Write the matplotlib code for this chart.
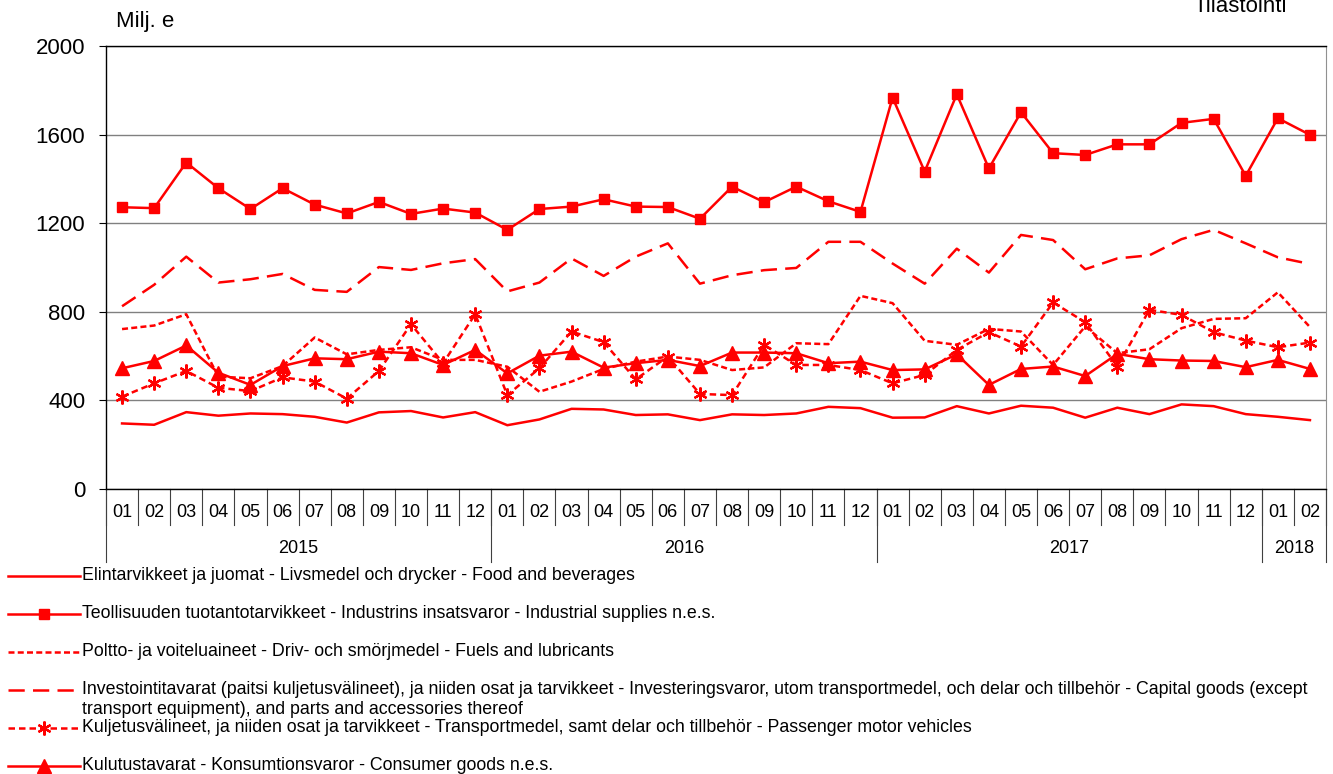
import numpy as np
import matplotlib.pyplot as plt
from matplotlib.lines import Line2D
import matplotlib.transforms as mtransforms

plt.rcParams['font.family'] = ['Liberation Sans', 'DejaVu Sans']

months = ['01', '02', '03', '04', '05', '06', '07', '08', '09', '10', '11', '12'] * 3 + ['01', '02']
years = ['2015', '2016', '2017', '2018']
year_len = [12, 12, 12, 2]

food = [296, 290, 347, 331, 341, 338, 326, 300, 346, 352, 323, 347,
        288, 314, 362, 359, 334, 337, 311, 337, 334, 341, 371, 365,
        322, 323, 374, 341, 376, 367, 322, 367, 338, 382, 374, 338,
        326, 311]
industrial = [1272, 1268, 1474, 1358, 1264, 1358, 1284, 1244, 1296, 1242, 1266, 1248,
              1170, 1264, 1275, 1308, 1275, 1273, 1220, 1365, 1295, 1365, 1299, 1251,
              1767, 1433, 1782, 1447, 1701, 1516, 1508, 1556, 1556, 1653, 1671, 1414,
              1674, 1599]
fuels = [722, 738, 789, 507, 500, 555, 684, 608, 628, 640, 583, 583,
         552, 439, 485, 542, 575, 598, 583, 537, 549, 658, 654, 872,
         839, 669, 651, 723, 711, 560, 734, 613, 631, 726, 768, 771,
         888, 731]
capital = [825, 922, 1049, 932, 947, 971, 899, 890, 1002, 989, 1019, 1038,
           892, 932, 1041, 962, 1049, 1109, 927, 965, 988, 998, 1116, 1116,
           1018, 927, 1085, 977, 1147, 1124, 992, 1041, 1055, 1128, 1170, 1109,
           1046, 1016]
passenger = [417, 477, 533, 457, 442, 504, 485, 408, 533, 744, 568, 789,
             424, 545, 711, 663, 495, 598, 429, 424, 651, 560, 560, 537,
             477, 515, 628, 708, 643, 842, 753, 553, 809, 786, 708, 670,
             640, 661]
consumer = [545, 578, 648, 525, 470, 555, 590, 586, 620, 613, 560, 628,
            522, 602, 620, 548, 568, 583, 555, 616, 616, 613, 568, 575,
            537, 540, 608, 470, 542, 553, 510, 610, 586, 580, 578, 550,
            583, 542]

labels = [
    ['Elintarvikkeet ja juomat - Livsmedel och drycker - Food and beverages'],
    ['Teollisuuden tuotantotarvikkeet - Industrins insatsvaror - Industrial supplies n.e.s.'],
    ['Poltto- ja voiteluaineet - Driv- och smörjmedel - Fuels and lubricants'],
    ['Investointitavarat (paitsi kuljetusvälineet), ja niiden osat ja tarvikkeet - Investeringsvaror, '
     'utom transportmedel, och delar och tillbehör - Capital goods (except',
     'transport equipment), and parts and accessories thereof'],
    ['Kuljetusvälineet, ja niiden osat ja tarvikkeet - Transportmedel, samt delar och tillbehör - Passenger motor vehicles'],
    ['Kulutustavarat - Konsumtionsvaror - Consumer goods n.e.s.'],
]

red = '#ff0000'
lw = 1.8
styles = [
    dict(linestyle='-', marker=None),
    dict(linestyle='-', marker='s', markersize=7.5),
    dict(linestyle=(0, (2.4, 1.3)), marker=None),
    dict(linestyle=(0, (6.5, 3.3)), marker=None),
    dict(linestyle=(0, (2.6, 1.6)), marker=(6, 2, 0), markersize=10, markeredgewidth=1.6),
    dict(linestyle='-', marker='^', markersize=9.5),
]
series = [food, industrial, fuels, capital, passenger, consumer]

W, H = 1333, 774
fig = plt.figure(figsize=(W / 100, H / 100), dpi=100)
ax = fig.add_axes([106 / W, 1 - 489 / H, 1220 / W, 443 / H])

x = np.arange(len(months))
for vals, st in zip(series, styles):
    ax.plot(x, vals, color=red, lw=lw, markeredgecolor=red, markerfacecolor=red, **st)

ax.set_xlim(-0.5, len(months) - 0.5)
ax.set_ylim(0, 2000)
ax.set_yticks(range(0, 2001, 400))
ax.tick_params(axis='y', labelsize=16, length=5, pad=10, direction='out')
ax.set_xticks([])
ax.yaxis.grid(True, color='#808080', lw=1)
ax.set_axisbelow(True)
for s in ['left', 'top', 'bottom']:
    ax.spines[s].set_color('black')
    ax.spines[s].set_linewidth(1)
ax.spines['right'].set_color('#909090')

# category axis: months and years
trans = mtransforms.blended_transform_factory(ax.transData, ax.transAxes)
for i, m in enumerate(months):
    ax.text(i, -0.0535, m, transform=trans, ha='center', va='center', fontsize=13)
for b in np.arange(len(months) + 1) - 0.5:
    ax.add_line(Line2D([b, b], [0, -0.081], transform=trans, color='#404040', lw=0.8, clip_on=False))
start = 0
for yr, n in zip(years, year_len):
    ax.add_line(Line2D([start - 0.5, start - 0.5], [0, -0.165], transform=trans,
                       color='#404040', lw=0.8, clip_on=False))
    ax.text(start + (n - 1) / 2, -0.135, yr, transform=trans, ha='center', va='center', fontsize=13)
    start += n
ax.add_line(Line2D([start - 0.5, start - 0.5], [0, -0.165], transform=trans,
                   color='#404040', lw=0.8, clip_on=False))

fig.text(116 / W, 1 - 21 / H, 'Milj. e', fontsize=16, va='center', ha='left')
fig.text(1287 / W, 1 - 12 / H, 'Tilastointi', fontsize=16, va='baseline', ha='right')

# legend below the chart
leg_y = [576, 614, 652, 690, 728, 766]
for ly, lab, st in zip(leg_y, labels, styles):
    yy = 1 - ly / H
    fig.add_artist(Line2D([8 / W, 80 / W], [yy, yy], color=red, lw=lw, linestyle=st['linestyle']))
    if st['marker'] is not None:
        fig.add_artist(Line2D([44 / W], [yy], color=red, marker=st['marker'],
                              markersize=st.get('markersize', 7),
                              markeredgewidth=st.get('markeredgewidth', 1),
                              markerfacecolor=red, markeredgecolor=red))
    for k, line in enumerate(lab):
        fig.text(82 / W, 1 - (ly + 20 * k) / H, line, fontsize=12.8, va='center', ha='left')

fig.savefig('out.png', dpi=100)
